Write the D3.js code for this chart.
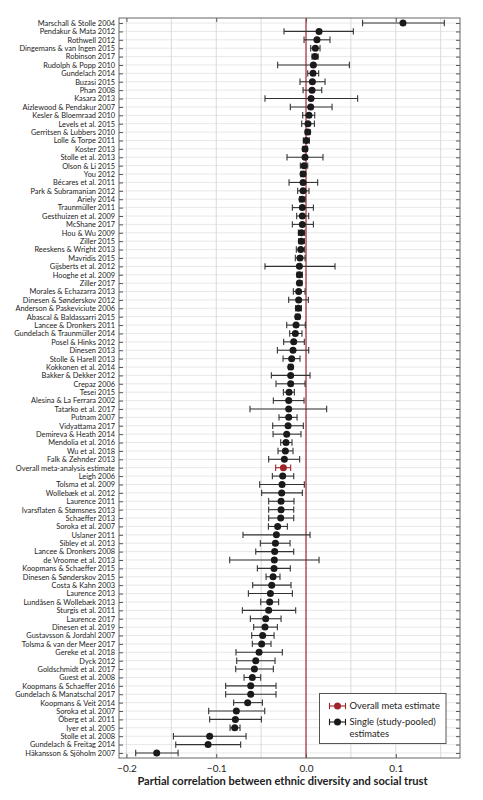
<!DOCTYPE html>
<html>
<head>
<meta charset="utf-8">
<script src="https://cdn.jsdelivr.net/npm/d3@7"></script>
<style>
  body { margin: 0; background: #fff; }
  text { font-family: Lato, "Open Sans", sans-serif; }
</style>
</head>
<body>
<div id="chart-area"></div>
<script>
//////////////////////////////////////////////
// Data //////////////////////////////////////
//////////////////////////////////////////////
var studies = [
    "Marschall & Stolle 2004", "Pendakur & Mata 2012", "Rothwell 2012", "Dingemans & van Ingen 2015",
    "Robinson 2017", "Rudolph & Popp 2010", "Gundelach 2014", "Buzasi 2015", "Phan 2008", "Kasara 2013",
    "Aizlewood & Pendakur 2007", "Kesler & Bloemraad 2010", "Levels et al. 2015", "Gerritsen & Lubbers 2010",
    "Lolle & Torpe 2011", "Koster 2013", "Stolle et al. 2013", "Olson & Li 2015", "You 2012",
    "Bécares et al. 2011", "Park & Subramanian 2012", "Ariely 2014", "Traunmüller 2011",
    "Gesthuizen et al. 2009", "McShane 2017", "Hou & Wu 2009", "Ziller 2015", "Reeskens & Wright 2013",
    "Mavridis 2015", "Gijsberts et al. 2012", "Hooghe et al. 2009", "Ziller 2017", "Morales & Echazarra 2013",
    "Dinesen & Sønderskov 2012", "Anderson & Paskeviciute 2006", "Abascal & Baldassarri 2015",
    "Lancee & Dronkers 2011", "Gundelach & Traunmüller 2014", "Posel & Hinks 2012", "Dinesen 2013",
    "Stolle & Harell 2013", "Kokkonen et al. 2014", "Bakker & Dekker 2012", "Crepaz 2006", "Tesei 2015",
    "Alesina & La Ferrara 2002", "Tatarko et al. 2017", "Putnam 2007", "Vidyattama 2017",
    "Demireva & Heath 2014", "Mendolia et al. 2016", "Wu et al. 2018", "Falk & Zehnder 2013",
    "Overall meta-analysis estimate", "Leigh 2006", "Tolsma et al. 2009", "Wollebæk et al. 2012",
    "Laurence 2011", "Ivarsflaten & Stømsnes 2013", "Schaeffer 2013", "Soroka et al. 2007", "Uslaner 2011",
    "Sibley et al. 2013", "Lancee & Dronkers 2008", "de Vroome et al. 2013", "Koopmans & Schaeffer 2015",
    "Dinesen & Sønderskov 2015", "Costa & Kahn 2003", "Laurence 2013", "Lundåsen & Wollebæk 2013",
    "Sturgis et al. 2011", "Laurence 2017", "Dinesen et al. 2019", "Gustavsson & Jordahl 2007",
    "Tolsma & van der Meer 2017", "Gereke et al. 2018", "Dyck 2012", "Goldschmidt et al. 2017",
    "Guest et al. 2008", "Koopmans & Schaeffer 2016", "Gundelach & Manatschal 2017", "Koopmans & Veit 2014",
    "Soroka et al. 2007", "Öberg et al. 2011", "Iyer et al. 2005", "Stolle et al. 2008",
    "Gundelach & Freitag 2014", "Häkansson & Sjöholm 2007"
];

var estimates = [
    0.108, 0.0145, 0.0122, 0.0104, 0.0100, 0.0082, 0.0078, 0.0071, 0.0067, 0.0056,
    0.0052, 0.0033, 0.0022, 0.0019, 0.0004, -0.0011, -0.0011, -0.0022, -0.0033, -0.0033,
    -0.0033, -0.0045, -0.0041, -0.0041, -0.0041, -0.0052, -0.0052, -0.0059, -0.0067, -0.0074,
    -0.0074, -0.0074, -0.0082, -0.0082, -0.0085, -0.0093, -0.0111, -0.0119, -0.0137, -0.0145,
    -0.0160, -0.0171, -0.0171, -0.0171, -0.0189, -0.0193, -0.0193, -0.0193, -0.0200, -0.0215,
    -0.0223, -0.0230, -0.0241, -0.0252, -0.0260, -0.0267, -0.0271, -0.0278, -0.0278, -0.0282,
    -0.0316, -0.0330, -0.0341, -0.0349, -0.0353, -0.0356, -0.0367, -0.0382, -0.0397, -0.0405,
    -0.0416, -0.0449, -0.0457, -0.0483, -0.0494, -0.0523, -0.0560, -0.0575, -0.0598, -0.0616,
    -0.0616, -0.0650, -0.0776, -0.0787, -0.0794, -0.1073, -0.1091, -0.1663
];

var lower = [
    0.063, -0.0245, -0.0022, 0.0052, 0.0067, -0.0316, 0.0019, -0.0067, -0.0033, -0.0457,
    -0.0175, -0.0037, -0.0048, -0.0007, -0.0030, -0.0037, -0.0212, -0.0063, -0.0059, -0.0189,
    -0.0093, -0.0071, -0.0152, -0.0104, -0.0152, -0.0085, -0.0082, -0.0108, -0.0119, -0.0457,
    -0.0100, -0.0093, -0.0141, -0.0193, -0.0115, -0.0115, -0.0215, -0.0182, -0.0249, -0.0319,
    -0.0256, -0.0193, -0.0386, -0.0334, -0.0252, -0.0364, -0.0624, -0.0301, -0.0371, -0.0367,
    -0.0282, -0.0312, -0.0416, -0.0338, -0.0375, -0.0516, -0.0494, -0.0416, -0.0416, -0.0416,
    -0.0419, -0.0702, -0.0509, -0.0560, -0.0850, -0.0542, -0.0445, -0.0594, -0.0642, -0.0505,
    -0.0709, -0.0620, -0.0583, -0.0605, -0.0598, -0.0780, -0.0772, -0.0783, -0.0690, -0.0895,
    -0.0895, -0.0806, -0.1084, -0.1073, -0.0846, -0.1477, -0.1451, -0.1897
];

var upper = [
    0.154, 0.0527, 0.0267, 0.0156, 0.0135, 0.0483, 0.0141, 0.0212, 0.0175, 0.0575,
    0.0290, 0.0097, 0.0093, 0.0045, 0.0037, 0.0015, 0.0189, 0.0019, -0.0008, 0.0130,
    0.0033, -0.0011, 0.0082, 0.0030, 0.0082, -0.0015, -0.0019, -0.0015, -0.0011, 0.0323,
    -0.0041, -0.0045, -0.0011, 0.0026, -0.0052, -0.0070, -0.0008, -0.0045, -0.0019, 0.0030,
    -0.0067, -0.0148, 0.0045, -0.0011, -0.0130, -0.0022, 0.0230, -0.0100, -0.0030, -0.0056,
    -0.0156, -0.0145, -0.0071, -0.0171, -0.0137, -0.0019, -0.0041, -0.0134, -0.0137, -0.0137,
    -0.0208, 0.0045, -0.0178, -0.0137, 0.0145, -0.0175, -0.0290, -0.0167, -0.0152, -0.0305,
    -0.0115, -0.0278, -0.0319, -0.0356, -0.0390, -0.0264, -0.0345, -0.0364, -0.0505, -0.0334,
    -0.0334, -0.0486, -0.0460, -0.0497, -0.0735, -0.0668, -0.0728, -0.1425
];

var xTicks = [-0.2, -0.1, 0.0, 0.1];
var xGrid = [-0.2, -0.15, -0.1, -0.05, 0.05, 0.1, 0.15];
var overallLabel = "Overall meta-analysis estimate";
var legendLabels = [["Overall meta estimate"], ["Single (study-pooled)", "estimates"]];
var xTitle = "Partial correlation between ethnic diversity and social trust";

var rows = studies.map(function(s, i) {
    return {i: i, study: s, est: estimates[i], lo: lower[i], hi: upper[i]};
});

//////////////////////////////////////////////
// Chart Config /////////////////////////////
//////////////////////////////////////////////
var margin = {top: 18, right: 23, bottom: 42, left: 119},
    width = 483 - margin.left - margin.right,
    height = 800 - margin.top - margin.bottom;

var red = "#a0242a",
    ink = "#222";

var xScale = d3.scaleLinear().domain([-0.2083, 0.1715]).range([0, width]);
var yScale = d3.scalePoint().domain(d3.range(rows.length)).range([0, height]).padding(0.6);

var svg = d3.select("#chart-area")
    .append("svg")
        .attr("width", 483)
        .attr("height", 800);

var g = svg.append("g")
        .attr("transform", "translate(" + margin.left + "," + margin.top + ")");

// grid lines
g.append("g")
    .selectAll("line")
    .data(rows)
    .join("line")
        .attr("x1", 0).attr("x2", width)
        .attr("y1", function(d) { return yScale(d.i); })
        .attr("y2", function(d) { return yScale(d.i); })
        .attr("stroke", "#e8e8e8")
        .attr("stroke-width", 1);

g.append("g")
    .selectAll("line")
    .data(xGrid)
    .join("line")
        .attr("x1", function(d) { return xScale(d); })
        .attr("x2", function(d) { return xScale(d); })
        .attr("y1", 0).attr("y2", height)
        .attr("stroke", "#dadada")
        .attr("stroke-width", 1);

// zero line
g.append("line")
    .attr("x1", xScale(0)).attr("x2", xScale(0))
    .attr("y1", 0).attr("y2", height)
    .attr("stroke", red)
    .attr("stroke-width", 1.2);

// axes
var yAxis = d3.axisLeft(yScale)
    .tickSizeInner(-4).tickSizeOuter(0).tickPadding(4)
    .tickFormat(function(i) { return studies[i]; });

var yAxisEl = g.append("g").call(yAxis);
yAxisEl.select(".domain").remove();
yAxisEl.selectAll("line").attr("stroke", "#555");
// tight-metric font so the 88 stacked labels don't collide
yAxisEl.selectAll("text")
    .attr("font-family", "'Liberation Sans', Arial, sans-serif")
    .attr("font-size", "7.4px")
    .attr("fill", ink);

var yAxisRight = g.append("g")
    .attr("transform", "translate(" + width + ",0)")
    .call(d3.axisRight(yScale).tickSizeInner(-4).tickSizeOuter(0).tickFormat(""));
yAxisRight.select(".domain").remove();
yAxisRight.selectAll("line").attr("stroke", "#555");

var xAxisEl = g.append("g")
    .attr("transform", "translate(0," + height + ")")
    .call(d3.axisBottom(xScale).tickValues(xTicks).tickSizeInner(-4).tickSizeOuter(0).tickPadding(7)
        .tickFormat(d3.format(".1f")));
xAxisEl.select(".domain").remove();
xAxisEl.selectAll("line").attr("stroke", "#555");
xAxisEl.selectAll("text").attr("font-size", "10px").attr("fill", ink);

var xAxisTop = g.append("g")
    .call(d3.axisTop(xScale).tickValues(xTicks).tickSizeInner(-4).tickSizeOuter(0).tickFormat(""));
xAxisTop.select(".domain").remove();
xAxisTop.selectAll("line").attr("stroke", "#555");

// frame
g.append("rect")
    .attr("width", width).attr("height", height)
    .attr("fill", "none")
    .attr("stroke", "#666")
    .attr("stroke-width", 1);

// error bars
var capH = 3.2;
var bars = g.append("g")
    .selectAll("g")
    .data(rows)
    .join("g")
        .attr("transform", function(d) { return "translate(0," + yScale(d.i) + ")"; })
        .attr("stroke", function(d) { return d.study === overallLabel ? red : "#333"; })
        .attr("stroke-width", 1.1);

bars.append("line")
    .attr("x1", function(d) { return xScale(d.lo); })
    .attr("x2", function(d) { return xScale(d.hi); });
bars.append("line")
    .attr("x1", function(d) { return xScale(d.lo); })
    .attr("x2", function(d) { return xScale(d.lo); })
    .attr("y1", -capH).attr("y2", capH);
bars.append("line")
    .attr("x1", function(d) { return xScale(d.hi); })
    .attr("x2", function(d) { return xScale(d.hi); })
    .attr("y1", -capH).attr("y2", capH);
bars.append("circle")
    .attr("cx", function(d) { return xScale(d.est); })
    .attr("r", 3.5)
    .attr("stroke", "none")
    .attr("fill", function(d) { return d.study === overallLabel ? red : "#1a1a1a"; });

// axis title
svg.append("text")
    .attr("x", margin.left + width / 2 - 7)
    .attr("y", 785)
    .attr("text-anchor", "middle")
    .attr("font-size", "11.1px")
    .attr("font-weight", "bold")
    .attr("fill", ink)
    .text(xTitle);

//////////////////////////////////////////////
// Legend ////////////////////////////////////
//////////////////////////////////////////////
var legend = svg.append("g").attr("transform", "translate(319.5,693.5)");
legend.append("rect")
    .attr("width", 126.5).attr("height", 50)
    .attr("fill", "#fff")
    .attr("stroke", "#555")
    .attr("stroke-width", 1);

var legendColors = [red, "#1a1a1a"];
var legendY = [12.5, 28.5];
legendLabels.forEach(function(lines, k) {
    var item = legend.append("g")
        .attr("transform", "translate(0," + legendY[k] + ")")
        .attr("stroke", legendColors[k])
        .attr("stroke-width", 1.1);
    item.append("line").attr("x1", 10).attr("x2", 26);
    item.append("line").attr("x1", 10).attr("x2", 10).attr("y1", -capH).attr("y2", capH);
    item.append("line").attr("x1", 26).attr("x2", 26).attr("y1", -capH).attr("y2", capH);
    item.append("circle").attr("cx", 18).attr("r", 3.5).attr("stroke", "none").attr("fill", legendColors[k]);
    lines.forEach(function(t, j) {
        item.append("text")
            .attr("x", 30)
            .attr("y", j * 11.5)
            .attr("dy", "0.35em")
            .attr("stroke", "none")
            .attr("fill", ink)
            .attr("font-size", "9.4px")
            .text(t);
    });
});
</script>
</body>
</html>
